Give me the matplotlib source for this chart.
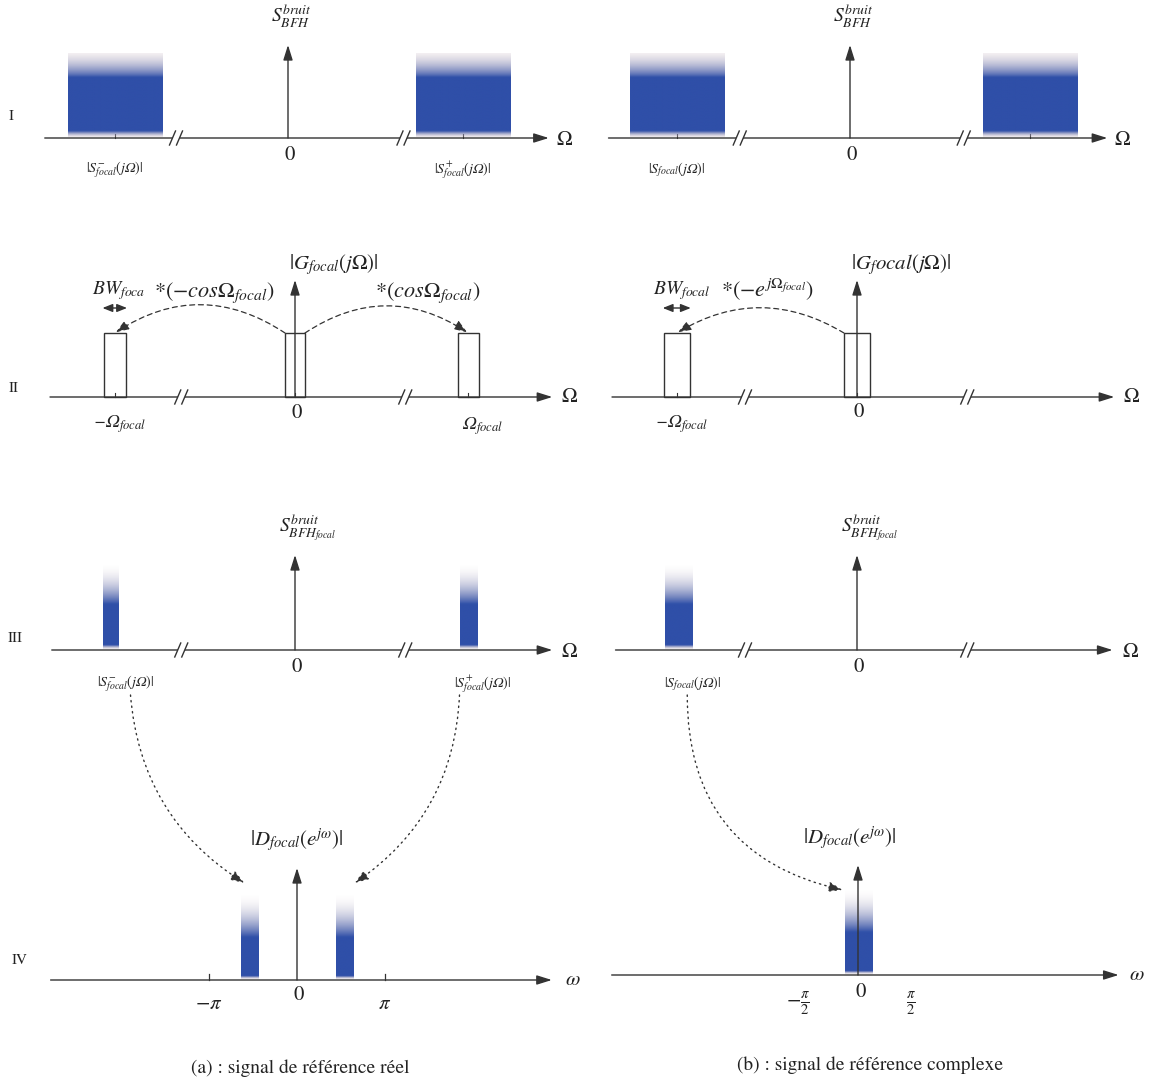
import numpy as np
import matplotlib
matplotlib.use("Agg")
import matplotlib.pyplot as plt
from matplotlib.patches import Rectangle, FancyArrowPatch, ConnectionPatch
from matplotlib.colors import to_rgb

W, H = 1157, 1081
plt.rcParams['mathtext.fontset'] = 'stix'
plt.rcParams['font.family'] = ['STIXGeneral', 'DejaVu Serif']

# ---------------- data (Ω in units of Ω_focal, ω in rad) ----------------
# Row I : wide-band noise S_BFH
I_limits_a = (-1.39, 1.49)
I_limits_b = (-1.38, 1.47)
I_breaks_a = [-0.64, 0.66]
I_breaks_b = [-0.63, 0.65]
I_centers_a = [-0.99, 1.00]
I_centers_b = [-0.99, 1.03]
I_width = 0.54
I_levels = (0.06, 0.60, 0.84)       # base, core top, peak
I_labels_a = [r"$|S^{-}_{focal}(j$Ω$)|$", r"$|S^{+}_{focal}(j$Ω$)|$"]
I_labels_b = [r"$|S_{focal}(j$Ω$)|$", None]

# Row II : focal filter G_focal
II_limits_a = (-1.40, 1.47)
II_limits_b = (-1.40, 1.47)
II_breaks_a = [-0.65, 0.63]
II_breaks_b = [-0.64, 0.63]
II_centers_a = [-1.03, 0.0, 0.99]
II_widths_a = [0.126, 0.114, 0.12]
II_centers_b = [-1.03, 0.0]
II_widths_b = [0.149, 0.149]
II_height = 0.64

# Row III : focal noise
III_limits_a = (-1.39, 1.47)
III_limits_b = (-1.38, 1.46)
III_breaks_a = [-0.65, 0.63]
III_breaks_b = [-0.64, 0.63]
III_centers_a = [-1.05, 0.99]
III_widths_a = [0.09, 0.10]
III_centers_b = [-1.02]
III_widths_b = [0.16]
III_levels = (0.04, 0.45, 0.85)
III_labels_a = [r"$|S^{-}_{focal}(j$Ω$)|$", r"$|S^{+}_{focal}(j$Ω$)|$"]
III_labels_b = [r"$|S_{focal}(j$Ω$)|$"]

# Row IV : discrete-time spectrum D_focal
IV_limits_a = (-8.8, 9.1)
IV_limits_b = (-6.9, 7.3)
IV_centers_a = [-1.68, 1.71]
IV_width_a = 0.64
IV_centers_b = [0.02]
IV_width_b = 0.78
IV_levels = (0.03, 0.42, 0.85)
IV_ticks_a = [-np.pi, np.pi]
IV_ticklabels_a = [r"$-\pi$", r"$\pi$"]
IV_ticks_b = [-np.pi / 2, np.pi / 2]
IV_ticklabels_b = [r"$-\frac{\pi}{2}$", r"$\frac{\pi}{2}$"]

# ---------------- style ----------------
AXC = '#333333'
BLUE = np.array(to_rgb('#2f4fa8'))
FRINGE = np.array(to_rgb('#c4b2bd'))
SX = 175.0
SY = 100.0

fig = plt.figure(figsize=(W / 100, H / 100), dpi=100)


def panel(L, R, T, B, x0, yb, sx=SX, sy=SY):
    ax = fig.add_axes([L / W, 1 - B / H, (R - L) / W, (B - T) / H])
    ax.set_xlim((L - x0) / sx, (R - x0) / sx)
    ax.set_ylim((yb - B) / sy, (yb - T) / sy)
    ax.axis('off')
    ax._sx, ax._sy = sx, sy
    return ax


def arrow(ax, p0, p1, lw=1.0, ms=13, z=3):
    ax.add_patch(FancyArrowPatch(p0, p1, arrowstyle='-|>,head_length=0.7,head_width=0.22',
                                 mutation_scale=ms, color=AXC, lw=lw, shrinkA=0, shrinkB=0,
                                 zorder=z))


def axis(ax, lims, top):
    arrow(ax, (lims[0], 0), (lims[1], 0))
    arrow(ax, (0, 0), (0, top), z=6)


def breaks(ax, xs):
    dx, dy, g = 3 / ax._sx, 7 / ax._sy, 3.5 / ax._sx
    for x in xs:
        ax.plot([x - g, x + g], [0, 0], color='white', lw=3, zorder=4, solid_capstyle='butt')
        for s in (-g, g):
            ax.plot([x + s - dx, x + s + dx], [-dy, dy], color=AXC, lw=1, zorder=5)


def noise(ax, c, w, levels, fade_white=False):
    """Band-limited noise block drawn as a soft vertical colour ramp."""
    base, core, peak = levels
    n = 300
    v = np.linspace(0, peak, n)
    img = np.zeros((n, 1, 4))
    for i, y in enumerate(v):
        if y < base:
            t = y / base
            col = FRINGE * (1 - t) + BLUE * t
            a = 0.25 + 0.75 * t
        elif y <= core:
            col, a = BLUE, 1.0
        else:
            t = (y - core) / (peak - core)
            col = BLUE * (1 - t) + FRINGE * t
            if fade_white:
                a = (1 - t) ** 1.4
            else:
                a = 1 - 0.8 * t ** 0.8
        img[i, 0, :3] = col
        img[i, 0, 3] = a
    ax.imshow(img, extent=(c - w / 2, c + w / 2, 0.005, peak), origin='lower',
              aspect='auto', interpolation='bilinear', zorder=2)


def lab(ax, x, y, s, fs=14, **kw):
    ax.text(x, y, s, fontsize=fs, ha='center', va='center', color='#222222', **kw)


# ---------------- Row I ----------------
for (L, R, x0, lims, brk, centers, labels) in [
        (40, 590, 288, I_limits_a, I_breaks_a, I_centers_a, I_labels_a),
        (600, 1157, 850, I_limits_b, I_breaks_b, I_centers_b, I_labels_b)]:
    ax = panel(L, R, 0, 200, x0, 138)
    axis(ax, lims, 0.93)
    breaks(ax, brk)
    for c, lb in zip(centers, labels):
        noise(ax, c, I_width, I_levels)
        ax.plot([c, c], [0, 0.04], color=AXC, lw=0.8, zorder=1)
        if lb:
            lab(ax, c, -0.32, lb, fs=10, style='italic')
    lab(ax, 0.02, 1.22, r"$S^{bruit}_{BFH}$", fs=14)
    lab(ax, 0.01, -0.17, "0", fs=15)
    lab(ax, lims[1] + 0.09, -0.02, r"$\Omega$", fs=15)

# ---------------- Row II ----------------
DASH = (0, (4, 3))
HEAD = '-|>,head_length=0.6,head_width=0.22'

ax2a = panel(40, 590, 240, 450, 295, 397)
axis(ax2a, II_limits_a, 1.17)
breaks(ax2a, II_breaks_a)
for c, w in zip(II_centers_a, II_widths_a):
    ax2a.add_patch(Rectangle((c - w / 2, 0), w, II_height, fill=False, ec=AXC, lw=1, zorder=3))
    ax2a.plot([c, c], [0, 0.04], color=AXC, lw=0.8)
lab(ax2a, 0.22, 1.32, r"$|G_{focal}(j\Omega)|$", fs=15)
lab(ax2a, II_centers_a[0] + 0.02, 1.06, r"$BW_{foca}$", fs=14)
ax2a.add_patch(FancyArrowPatch((II_centers_a[0] - 0.07, 0.89), (II_centers_a[0] + 0.07, 0.89),
                               arrowstyle='<|-|>,head_length=0.5,head_width=0.2', mutation_scale=12,
                               color=AXC, lw=1, shrinkA=0, shrinkB=0))
lab(ax2a, -0.46, 1.04, r"$*(-cos\Omega_{focal})$", fs=16)
lab(ax2a, 0.76, 1.04, r"$*(cos\Omega_{focal})$", fs=16)
ax2a.add_patch(FancyArrowPatch((-II_widths_a[1] / 2, II_height), (II_centers_a[0], II_height),
                               connectionstyle='arc3,rad=0.33', arrowstyle=HEAD,
                               mutation_scale=13, color=AXC, lw=0.9, ls=DASH, shrinkA=0, shrinkB=1))
ax2a.add_patch(FancyArrowPatch((II_widths_a[1] / 2, II_height), (II_centers_a[2], II_height),
                               connectionstyle='arc3,rad=-0.33', arrowstyle=HEAD,
                               mutation_scale=13, color=AXC, lw=0.9, ls=DASH, shrinkA=0, shrinkB=1))
lab(ax2a, II_centers_a[0] + 0.03, -0.27, r"−Ω$_{focal}$", fs=13, style='italic')
lab(ax2a, II_centers_a[2] + 0.08, -0.29, r"Ω$_{focal}$", fs=13, style='italic')
lab(ax2a, 0.01, -0.16, "0", fs=15)
lab(ax2a, II_limits_a[1] + 0.10, 0.0, r"$\Omega$", fs=15)

ax2b = panel(600, 1157, 240, 450, 857, 397)
axis(ax2b, II_limits_b, 1.17)
breaks(ax2b, II_breaks_b)
for c, w in zip(II_centers_b, II_widths_b):
    ax2b.add_patch(Rectangle((c - w / 2, 0), w, II_height, fill=False, ec=AXC, lw=1, zorder=3))
    ax2b.plot([c, c], [0, 0.04], color=AXC, lw=0.8)
lab(ax2b, 0.25, 1.32, r"$|G_{f}ocal(j\Omega)|$", fs=15)
lab(ax2b, II_centers_b[0] + 0.03, 1.06, r"$BW_{focal}$", fs=14)
ax2b.add_patch(FancyArrowPatch((II_centers_b[0] - 0.08, 0.89), (II_centers_b[0] + 0.08, 0.89),
                               arrowstyle='<|-|>,head_length=0.5,head_width=0.2', mutation_scale=12,
                               color=AXC, lw=1, shrinkA=0, shrinkB=0))
lab(ax2b, -0.51, 1.07, r"$*(-e^{j\Omega_{focal}})$", fs=16)
ax2b.add_patch(FancyArrowPatch((-II_widths_b[1] / 2, II_height), (II_centers_b[0], II_height),
                               connectionstyle='arc3,rad=0.3', arrowstyle=HEAD,
                               mutation_scale=13, color=AXC, lw=0.9, ls=DASH, shrinkA=0, shrinkB=1))
lab(ax2b, II_centers_b[0] + 0.03, -0.27, r"−Ω$_{focal}$", fs=13, style='italic')
lab(ax2b, 0.01, -0.15, "0", fs=15)
lab(ax2b, II_limits_b[1] + 0.10, 0.0, r"$\Omega$", fs=15)

# ---------------- Row III ----------------
ax3 = []
for (L, R, x0, lims, brk, centers, widths, labels) in [
        (40, 590, 295, III_limits_a, III_breaks_a, III_centers_a, III_widths_a, III_labels_a),
        (600, 1157, 857, III_limits_b, III_breaks_b, III_centers_b, III_widths_b, III_labels_b)]:
    ax = panel(L, R, 500, 710, x0, 650)
    axis(ax, lims, 0.95)
    breaks(ax, brk)
    for c, w, lb in zip(centers, widths, labels):
        noise(ax, c, w, III_levels, fade_white=True)
        lab(ax, c + 0.08, -0.34, lb, fs=10, style='italic')
    lab(ax, 0.07, 1.22, r"$S^{bruit}_{BFH_{focal}}$", fs=14)
    lab(ax, 0.01, -0.17, "0", fs=15)
    lab(ax, lims[1] + 0.10, -0.02, r"$\Omega$", fs=15)
    ax3.append(ax)

# ---------------- Row IV ----------------
ax4a = panel(40, 600, 820, 1025, 297, 980, sx=28.0)
axis(ax4a, IV_limits_a, 1.12)
for c in IV_centers_a:
    noise(ax4a, c, IV_width_a, IV_levels, fade_white=True)
for t, tl in zip(IV_ticks_a, IV_ticklabels_a):
    ax4a.plot([t, t], [0, 0.06], color=AXC, lw=0.9)
    lab(ax4a, t, -0.24, tl, fs=15)
lab(ax4a, 0.0, 1.40, r"$|D_{focal}(e^{j\omega})|$", fs=15)
lab(ax4a, 0.07, -0.15, "0", fs=15)
lab(ax4a, IV_limits_a[1] + 0.75, 0.0, r"$\omega$", fs=15)

ax4b = panel(600, 1157, 820, 1025, 858, 975, sx=35.7)
axis(ax4b, IV_limits_b, 1.10)
for c in IV_centers_b:
    noise(ax4b, c, IV_width_b, IV_levels, fade_white=True)
for t, tl in zip(IV_ticks_b, IV_ticklabels_b):
    lab(ax4b, t - 0.1, -0.29, tl, fs=15)
lab(ax4b, -0.22, 1.37, r"$|D_{focal}(e^{j\omega})|$", fs=15)
lab(ax4b, 0.08, -0.17, "0", fs=15)
lab(ax4b, IV_limits_b[1] + 0.5, 0.0, r"$\omega$", fs=15)

# dotted transfer arrows III -> IV
for axA, xa, axB, xb, vb, rad in [
        (ax3[0], III_centers_a[0] + 0.11, ax4a, IV_centers_a[0] - 0.2, 0.97, 0.25),
        (ax3[0], III_centers_a[1] - 0.05, ax4a, IV_centers_a[1] + 0.35, 0.97, -0.25),
        (ax3[1], III_centers_b[0] + 0.05, ax4b, IV_centers_b[0] - 0.45, 0.85, 0.40)]:
    con = ConnectionPatch(xyA=(xa, -0.45), coordsA=axA.transData,
                          xyB=(xb, vb), coordsB=axB.transData,
                          connectionstyle=f'arc3,rad={rad}',
                          arrowstyle='-|>,head_length=0.7,head_width=0.25', mutation_scale=12,
                          color=AXC, lw=1.0, ls=(0, (1, 3)), shrinkA=0, shrinkB=0, zorder=10)
    fig.add_artist(con)

# row labels and captions
for s, x, y in [("I", 11, 116), ("II", 14, 388), ("III", 15, 638), ("IV", 20, 960)]:
    fig.text(x / W, 1 - y / H, s, fontsize=11, ha='center', va='center', color='#222222')
fig.text(300 / W, 1 - 1068 / H, "(a) : signal de référence réel", fontsize=14,
         ha='center', va='center', color='#222222')
fig.text(870 / W, 1 - 1065 / H, "(b) : signal de référence complexe", fontsize=14,
         ha='center', va='center', color='#222222')

fig.savefig("out.png", dpi=100, facecolor='white')
